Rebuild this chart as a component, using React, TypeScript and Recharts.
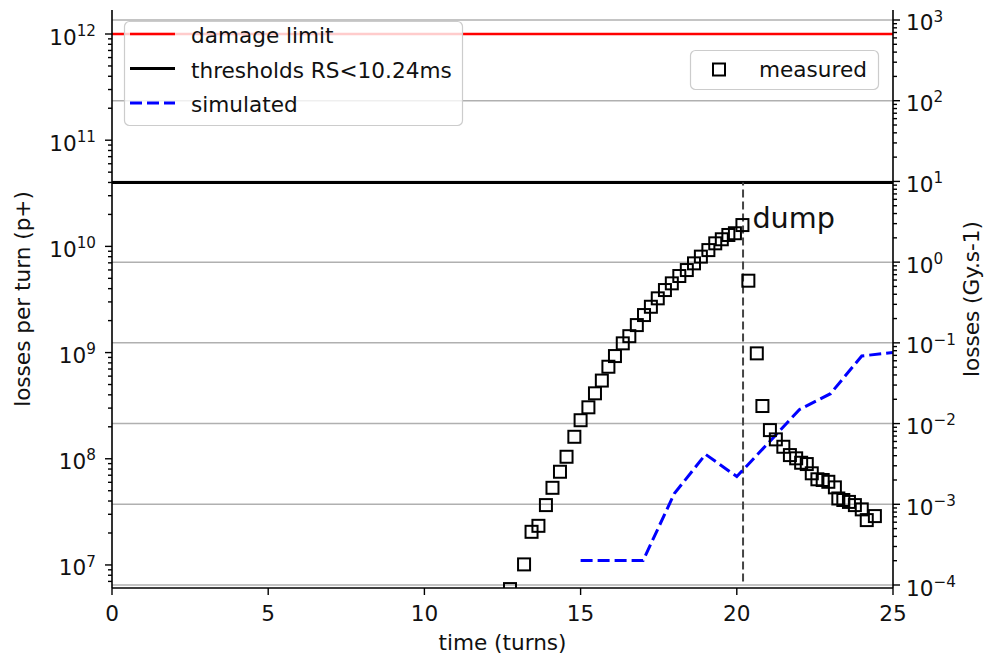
import React from 'react';
import {
  ComposedChart,
  Line,
  Scatter,
  XAxis,
  YAxis,
  CartesianGrid,
  ReferenceLine,
  ReferenceDot,
  Legend,
} from 'recharts';

// ---- data ---------------------------------------------------------------
// BLM readings (Gy/s) against time in turns
const measuredTurns = [
  12.74, 13.19, 13.43, 13.65, 13.89, 14.1, 14.34, 14.55, 14.8, 15.0, 15.25, 15.46, 15.68, 15.89,
  16.1, 16.35, 16.56, 16.8, 17.03, 17.25, 17.47, 17.7, 17.92, 18.16, 18.4, 18.63, 18.85, 19.09,
  19.31, 19.52, 19.73, 19.94, 20.18, 20.37, 20.64, 20.82, 21.06, 21.25, 21.49, 21.7, 21.9, 22.06,
  22.24, 22.4, 22.58, 22.75, 22.93, 23.14, 23.25, 23.41, 23.59, 23.78, 24.0, 24.16, 24.42,
];
const measuredDose = [
  8.9e-5, 1.8e-4, 4.56e-4, 5.41e-4, 9.77e-4, 1.6e-3, 2.53e-3, 3.88e-3, 6.86e-3, 1.1e-2, 1.59e-2,
  2.37e-2, 3.41e-2, 5.06e-2, 6.86e-2, 9.86e-2, 0.121, 0.166, 0.221, 0.28, 0.356, 0.451, 0.546,
  0.673, 0.798, 0.966, 1.17, 1.41, 1.71, 1.92, 2.17, 2.28, 2.88, 0.589, 0.0741, 0.0165, 8.3e-3,
  6.37e-3, 5.16e-3, 4.07e-3, 3.71e-3, 3.27e-3, 3.15e-3, 2.42e-3, 2.04e-3, 2.0e-3, 1.9e-3,
  1.62e-3, 1.18e-3, 1.13e-3, 1.07e-3, 9.77e-4, 8.65e-4, 6.37e-4, 7.14e-4,
];

// simulated losses per turn (p+)
const simulatedTurns = [15, 16, 17, 18, 19, 20, 21, 22, 23, 24, 25];
const simulatedLosses = [1.1e7, 1.1e7, 1.1e7, 4.7e7, 1.1e8, 6.8e7, 1.4e8, 2.9e8, 4.1e8, 9.3e8, 1.0e9];

const damageLimit = 1e12;
const thresholdRS = 4e10;
const dumpTurn = 20.2;
const dumpSpan = [7e6, 4e10];
const dumpLabelAt = { t: 20.5, v: 1.5e10 };

// axes
const xTicks = [0, 5, 10, 15, 20, 25];
const leftMajor = [1e7, 1e8, 1e9, 1e10, 1e11, 1e12];
const rightMajor = [1e-4, 1e-3, 1e-2, 1e-1, 1e0, 1e1, 1e2, 1e3];
const leftDomain: [number, number] = [6.067e6, 1.683e12];
const rightDomain: [number, number] = [9.18e-5, 1330];

const names = {
  damage: 'damage limit',
  threshold: 'thresholds RS<10.24ms',
  simulated: 'simulated',
  measured: 'measured',
};
const colors = { damage: '#ff0000', threshold: '#000000', simulated: '#0000ff', measured: '#000000' };

// ---- derived tables -------------------------------------------------------
const measuredData = measuredTurns.map((t, i) => ({ t, v: measuredDose[i] }));
const simulatedData = simulatedTurns.map((t, i) => ({ t, v: simulatedLosses[i] }));

const withMinor = (majors: number[], [lo, hi]: [number, number]) => {
  const out: number[] = [];
  const first = majors[0] / 10;
  [first, ...majors].forEach((m) => {
    for (let k = 1; k <= 9; k++) {
      const v = m * k;
      if (v >= lo && v <= hi) out.push(v);
    }
  });
  return out;
};
const leftTicks = withMinor(leftMajor, leftDomain);
const rightTicks = withMinor(rightMajor, rightDomain);

// ---- styling ------------------------------------------------------------
const FONT = "'DejaVu Sans', sans-serif";
const FS = 21.6;
const SUP = 15.2;
const TEXT = '#111';
const W = 984;
const H = 657;

const LogTick = (props: any) => {
  const { x, y, payload, side } = props;
  const v = payload.value as number;
  const lg = Math.log10(v);
  const e = Math.round(lg);
  const major = Math.abs(lg - e) < 1e-6;
  const dir = side === 'left' ? -1 : 1;
  const len = major ? 7 : 4;
  const exp = e < 0 ? '\u2212' + Math.abs(e) : String(e);
  return (
    <g>
      <line x1={x} y1={y} x2={x + dir * len} y2={y} stroke="#000" strokeWidth={1.4} />
      {major && (
        <text
          x={side === 'left' ? x - 16 : x + 13}
          y={y + 10.5}
          textAnchor={side === 'left' ? 'end' : 'start'}
          fontFamily={FONT}
          fontSize={FS}
          fill={TEXT}
        >
          10
          <tspan dy={-8.8} fontSize={SUP}>
            {exp}
          </tspan>
        </text>
      )}
    </g>
  );
};

const XTick = (props: any) => {
  const { x, y, payload } = props;
  return (
    <g>
      <line x1={x} y1={y} x2={x} y2={y + 7} stroke="#000" strokeWidth={1.4} />
      <text x={x} y={y + 33} textAnchor="middle" fontFamily={FONT} fontSize={FS} fill={TEXT}>
        {payload.value}
      </text>
    </g>
  );
};

const HollowSquare = (props: any) => {
  const { cx, cy } = props;
  if (cx == null || cy == null) return null;
  return <rect x={cx - 6} y={cy - 6} width={12} height={12} fill="none" stroke={colors.measured} strokeWidth={2} />;
};

const DumpText = (props: any) => (
  <text x={props.cx} y={props.cy} fontFamily={FONT} fontSize={28.7} fill={TEXT}>
    dump
  </text>
);

const leftEntries = [
  { name: names.damage, color: colors.damage, width: 2.5, dash: undefined as string | undefined },
  { name: names.threshold, color: colors.threshold, width: 3, dash: undefined as string | undefined },
  { name: names.simulated, color: colors.simulated, width: 3, dash: '12 5' },
];

const LegendBoxes = () => (
  <svg width={W} height={H} style={{ position: 'absolute', left: 0, top: 0, pointerEvents: 'none' }}>
    <rect x={124.5} y={21.5} width={338} height={104} rx={5} fill="#fff" fillOpacity={0.8} stroke="#cccccc" strokeWidth={1.2} />
    {leftEntries.map((e, i) => {
      const ly = 34 + i * 34.5;
      return (
        <g key={e.name}>
          <line x1={130} y1={ly} x2={175} y2={ly} stroke={e.color} strokeWidth={e.width} strokeDasharray={e.dash} />
          <text x={191} y={ly + 9} fontFamily={FONT} fontSize={FS} fill={TEXT}>
            {e.name}
          </text>
        </g>
      );
    })}
    <rect x={690.5} y={50.5} width={188} height={39} rx={5} fill="#fff" fillOpacity={0.8} stroke="#cccccc" strokeWidth={1.2} />
    <rect x={713} y={63.5} width={12} height={12} fill="none" stroke={colors.measured} strokeWidth={2} />
    <text x={759} y={76.5} fontFamily={FONT} fontSize={FS} fill={TEXT}>
      {names.measured}
    </text>
  </svg>
);

const spine = { stroke: '#000', strokeWidth: 1.6 };

export default function App() {
  return (
    <div style={{ position: 'absolute', left: 0, top: 0, width: W, height: H, background: '#fff' }}>
      <ComposedChart width={W} height={H} margin={{ top: 10, right: 0, bottom: 0, left: 0 }}>
        <CartesianGrid
          yAxisId="right"
          vertical={false}
          horizontalValues={rightMajor}
          stroke="#b0b0b0"
          strokeWidth={1.5}
        />
        <XAxis
          dataKey="t"
          type="number"
          domain={[0, 25]}
          allowDataOverflow
          ticks={xTicks}
          interval={0}
          height={69}
          tickSize={0}
          tickMargin={0}
          tickLine={false}
          axisLine={spine}
          tick={<XTick />}
          label={(p: any) => (
            <text
              x={p.viewBox.x + p.viewBox.width / 2}
              y={p.viewBox.y + 62}
              textAnchor="middle"
              fontFamily={FONT}
              fontSize={FS}
              fill={TEXT}
            >
              time (turns)
            </text>
          )}
        />
        <XAxis xAxisId="top" orientation="top" type="number" domain={[0, 25]} height={0} tick={false} tickLine={false} axisLine={spine} />
        <YAxis
          yAxisId="left"
          scale="log"
          type="number"
          domain={leftDomain}
          allowDataOverflow
          ticks={leftTicks}
          interval={0}
          width={112}
          tickSize={0}
          tickMargin={0}
          tickLine={false}
          axisLine={spine}
          tick={<LogTick side="left" />}
          label={(p: any) => {
            const cx = p.viewBox.x + 30;
            const cy = p.viewBox.y + p.viewBox.height / 2;
            return (
              <text x={cx} y={cy} transform={`rotate(-90 ${cx} ${cy})`} textAnchor="middle" fontFamily={FONT} fontSize={FS} fill={TEXT}>
                losses per turn (p+)
              </text>
            );
          }}
        />
        <YAxis
          yAxisId="right"
          orientation="right"
          scale="log"
          type="number"
          domain={rightDomain}
          allowDataOverflow
          ticks={rightTicks}
          interval={0}
          width={91}
          tickSize={0}
          tickMargin={0}
          tickLine={false}
          axisLine={spine}
          tick={<LogTick side="right" />}
          label={(p: any) => {
            const cx = p.viewBox.x + 86;
            const cy = p.viewBox.y + p.viewBox.height / 2;
            return (
              <text x={cx} y={cy} transform={`rotate(-90 ${cx} ${cy})`} textAnchor="middle" fontFamily={FONT} fontSize={FS} fill={TEXT}>
                losses (Gy.s-1)
              </text>
            );
          }}
        />

        <ReferenceLine yAxisId="left" y={damageLimit} stroke={colors.damage} strokeWidth={2.5} />
        <ReferenceLine yAxisId="left" y={thresholdRS} stroke={colors.threshold} strokeWidth={3} />
        <ReferenceLine
          yAxisId="left"
          segment={[
            { x: dumpTurn, y: dumpSpan[0] },
            { x: dumpTurn, y: dumpSpan[1] },
          ]}
          stroke="#444"
          strokeWidth={2}
          strokeDasharray="8 4"
        />

        <Line
          yAxisId="left"
          data={simulatedData}
          dataKey="v"
          name={names.simulated}
          type="linear"
          stroke={colors.simulated}
          strokeWidth={3}
          strokeDasharray="12 5"
          dot={false}
          activeDot={false}
          isAnimationActive={false}
        />
        <Scatter
          yAxisId="right"
          data={measuredData}
          dataKey="v"
          name={names.measured}
          shape={<HollowSquare />}
          isAnimationActive={false}
        />
        <ReferenceDot yAxisId="left" x={dumpLabelAt.t} y={dumpLabelAt.v} r={1} shape={<DumpText />} />

        <Legend
          layout="vertical"
          align="center"
          verticalAlign="middle"
          wrapperStyle={{ left: 0, top: 0, width: W, height: H, pointerEvents: 'none' }}
          content={() => <LegendBoxes />}
        />
      </ComposedChart>
    </div>
  );
}
